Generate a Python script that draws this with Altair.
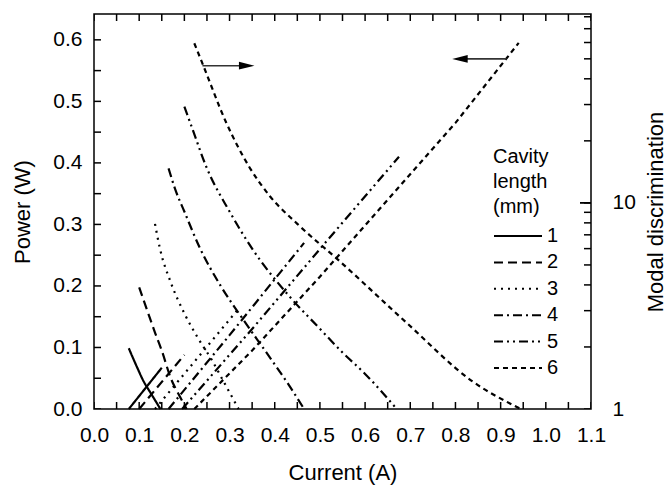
import altair as alt
import pandas as pd

lengths = ["1", "2", "3", "4", "5", "6"]
dash_patterns = [[1, 0], [9, 5], [2, 5], [9, 4, 2, 4], [9, 4, 2, 4, 2, 4], [5, 4]]

# Output power (W) vs current (A)
p1_I = [0.077, 0.150]
p1_P = [0.0, 0.067]
p2_I = [0.100, 0.200]
p2_P = [0.0, 0.088]
p3_I = [0.135, 0.320]
p3_P = [0.0, 0.163]
p4_I = [0.165, 0.300, 0.465]
p4_P = [0.0, 0.120, 0.270]
p5_I = [0.195, 0.350, 0.500, 0.675]
p5_P = [0.0, 0.130, 0.260, 0.410]
p6_I = [0.222, 0.350, 0.500, 0.650, 0.800, 0.940]
p6_P = [0.0, 0.095, 0.215, 0.340, 0.465, 0.595]

# Modal discrimination vs current (A)
m1_I = [0.077, 0.095, 0.110, 0.125, 0.147]
m1_M = [1.97, 1.60, 1.36, 1.20, 1.0]
m2_I = [0.100, 0.120, 0.135, 0.150, 0.170, 0.190, 0.205]
m2_M = [3.89, 2.91, 2.35, 1.92, 1.41, 1.15, 1.0]
m3_I = [0.135, 0.146, 0.170, 0.200, 0.230, 0.260, 0.290, 0.320]
m3_M = [7.91, 6.0, 4.11, 2.91, 2.21, 1.74, 1.32, 1.0]
m4_I = [0.165, 0.180, 0.200, 0.235, 0.280, 0.330, 0.380, 0.430, 0.465]
m4_M = [14.7, 11.6, 9.08, 6.0, 3.97, 2.72, 1.90, 1.32, 1.0]
m5_I = [0.200, 0.215, 0.250, 0.300, 0.350, 0.430, 0.500, 0.550, 0.600, 0.670]
m5_M = [29.3, 23.8, 14.7, 9.08, 6.0, 3.57, 2.45, 1.88, 1.48, 1.0]
m6_I = [0.222, 0.241, 0.292, 0.344, 0.389, 0.450, 0.543, 0.691, 0.838, 0.945]
m6_M = [59.5, 46.9, 24.7, 14.9, 10.8, 7.91, 5.23, 2.63, 1.36, 1.0]

# Arrows (start x, head x, y in power units)
arrow_x0 = [0.240, 0.913]
arrow_x1 = [0.338, 0.810]
arrow_y = [0.558, 0.569]
arrow_dir = ["right", "left"]

x_ticks = [round(i * 0.05, 2) for i in range(23)]
y_ticks = [round(i * 0.05, 2) for i in range(13)]
md_ticks = [1, 2, 3, 4, 5, 6, 7, 8, 9, 10, 20, 30, 40, 50, 60, 70, 80]
md_major_ticks = [10]

X_MAX = 1.1
Y_MAX = 0.642
MD_MAX = 82.5

FONT = "Liberation Sans"

power_rows = []
for L, I, P in zip(lengths, [p1_I, p2_I, p3_I, p4_I, p5_I, p6_I],
                   [p1_P, p2_P, p3_P, p4_P, p5_P, p6_P]):
    for i, p in zip(I, P):
        power_rows.append({"len": L, "I": i, "P": p})
power_df = pd.DataFrame(power_rows)

md_rows = []
for L, I, M in zip(lengths, [m1_I, m2_I, m3_I, m4_I, m5_I, m6_I],
                   [m1_M, m2_M, m3_M, m4_M, m5_M, m6_M]):
    for i, m in zip(I, M):
        md_rows.append({"len": L, "I": i, "M": m})
md_df = pd.DataFrame(md_rows)

arrow_df = pd.DataFrame({"x0": arrow_x0, "x1": arrow_x1, "y": arrow_y, "dir": arrow_dir})
xt_df = pd.DataFrame({"v": x_ticks})
yt_df = pd.DataFrame({"v": y_ticks})
mt_df = pd.DataFrame({"v": md_ticks})
mt_major_df = pd.DataFrame({"v": md_major_ticks})

xscale = alt.Scale(domain=[0, X_MAX], nice=False, zero=False)
yscale = alt.Scale(domain=[0, Y_MAX], nice=False)
mscale = alt.Scale(type="log", domain=[1, MD_MAX], nice=False)

dash_scale = alt.Scale(domain=lengths, range=dash_patterns)
legend = alt.Legend(
    title=["Cavity", "length", "(mm)"], orient="none", legendX=399, legendY=133,
    symbolType="stroke", symbolSize=2304, symbolStrokeWidth=2, symbolStrokeColor="black",
    clipHeight=26, rowPadding=0.4, labelOffset=4, labelFontSize=20, labelFont=FONT,
    labelColor="black", titleFontSize=20, titleFont=FONT, titleFontWeight="normal",
    titleColor="black", titleLineHeight=25, titlePadding=6, titleAnchor="start",
)

common_axis = dict(
    ticks=False, domain=False, grid=False,
    labelFont=FONT, labelFontSize=21, labelColor="black", titleFont=FONT,
    titleFontSize=22, titleFontWeight="normal", titleColor="black",
)

x_bottom = alt.Axis(
    orient="bottom", values=x_ticks, title="Current (A)",
    labelExpr="abs(datum.value*10 - round(datum.value*10)) < 0.01 ? format(datum.value, '.1f') : ''",
    labelPadding=15, titlePadding=17, labelFlush=False, labelOverlap=False, **common_axis,
)
y_left = alt.Axis(
    orient="left", values=y_ticks, title="Power (W)",
    labelExpr="abs(datum.value*10 - round(datum.value*10)) < 0.01 ? format(datum.value, '.1f') : ''",
    labelPadding=12, titlePadding=18, labelFlush=False, labelOverlap=False, **common_axis,
)
y_right = alt.Axis(
    orient="right", values=md_ticks, title="Modal discrimination", titleAngle=270,
    labelExpr="(datum.value == 1 || datum.value == 10) ? format(datum.value, 'd') : ''",
    labelPadding=21, titlePadding=32, labelFlush=False, labelOverlap=False, **common_axis,
)

power = alt.Chart(power_df).mark_line(color="black", strokeWidth=2.2).encode(
    x=alt.X("I:Q", scale=xscale, axis=x_bottom),
    y=alt.Y("P:Q", scale=yscale, axis=y_left),
    strokeDash=alt.StrokeDash("len:N", scale=dash_scale, legend=legend),
    detail="len:N",
)

arrow_lines = alt.Chart(arrow_df).mark_rule(color="#333333", strokeWidth=1.6).encode(
    x=alt.X("x0:Q", scale=xscale), x2="x1:Q", y=alt.Y("y:Q", scale=yscale),
)
arrow_right = alt.Chart(arrow_df).transform_filter("datum.dir == 'right'").mark_point(
    shape="M-1,-0.5L1,0L-1,0.5Z", filled=True, color="black", opacity=1, size=240,
).encode(x=alt.X("x1:Q", scale=xscale), y=alt.Y("y:Q", scale=yscale))
arrow_left = alt.Chart(arrow_df).transform_filter("datum.dir == 'left'").mark_point(
    shape="M1,-0.5L-1,0L1,0.5Z", filled=True, color="black", opacity=1, size=240,
).encode(x=alt.X("x1:Q", scale=xscale), y=alt.Y("y:Q", scale=yscale))

# inward tick marks (half of each tick is clipped by the frame)
tick_style = dict(color="black", thickness=1.5, size=14, clip=True, opacity=1)
xt_bottom = alt.Chart(xt_df).mark_tick(orient="vertical", **tick_style).encode(
    x=alt.X("v:Q", scale=xscale), y=alt.datum(0))
xt_top = alt.Chart(xt_df).mark_tick(orient="vertical", **tick_style).encode(
    x=alt.X("v:Q", scale=xscale), y=alt.datum(Y_MAX))
yt_left = alt.Chart(yt_df).mark_tick(orient="horizontal", **tick_style).encode(
    y=alt.Y("v:Q", scale=yscale), x=alt.datum(0))

left_layer = alt.layer(power, arrow_lines, arrow_right, arrow_left, xt_bottom, xt_top, yt_left)

md = alt.Chart(md_df).mark_line(color="black", strokeWidth=2.2, interpolate="monotone").encode(
    x=alt.X("I:Q", scale=xscale),
    y=alt.Y("M:Q", scale=mscale, axis=y_right),
    strokeDash=alt.StrokeDash("len:N", scale=dash_scale, legend=legend),
    detail="len:N",
)
mt_right = alt.Chart(mt_df).mark_tick(orient="horizontal", **tick_style).encode(
    y=alt.Y("v:Q", scale=mscale), x=alt.datum(X_MAX))
mt_right_major = alt.Chart(mt_major_df).mark_tick(
    orient="horizontal", color="black", thickness=1.8, size=22, clip=True, opacity=1
).encode(y=alt.Y("v:Q", scale=mscale), x=alt.datum(X_MAX))

right_layer = alt.layer(md, mt_right, mt_right_major)

chart = alt.layer(left_layer, right_layer).resolve_scale(y="independent").properties(
    width=497, height=395,
    autosize=alt.AutoSizeParams(type="none"),
    padding={"left": 94, "top": 14, "right": 80, "bottom": 80},
    background="white",
).configure_view(stroke="black", strokeWidth=1.5)

chart.save("out.html", embed_options={"renderer": "svg", "actions": False})
